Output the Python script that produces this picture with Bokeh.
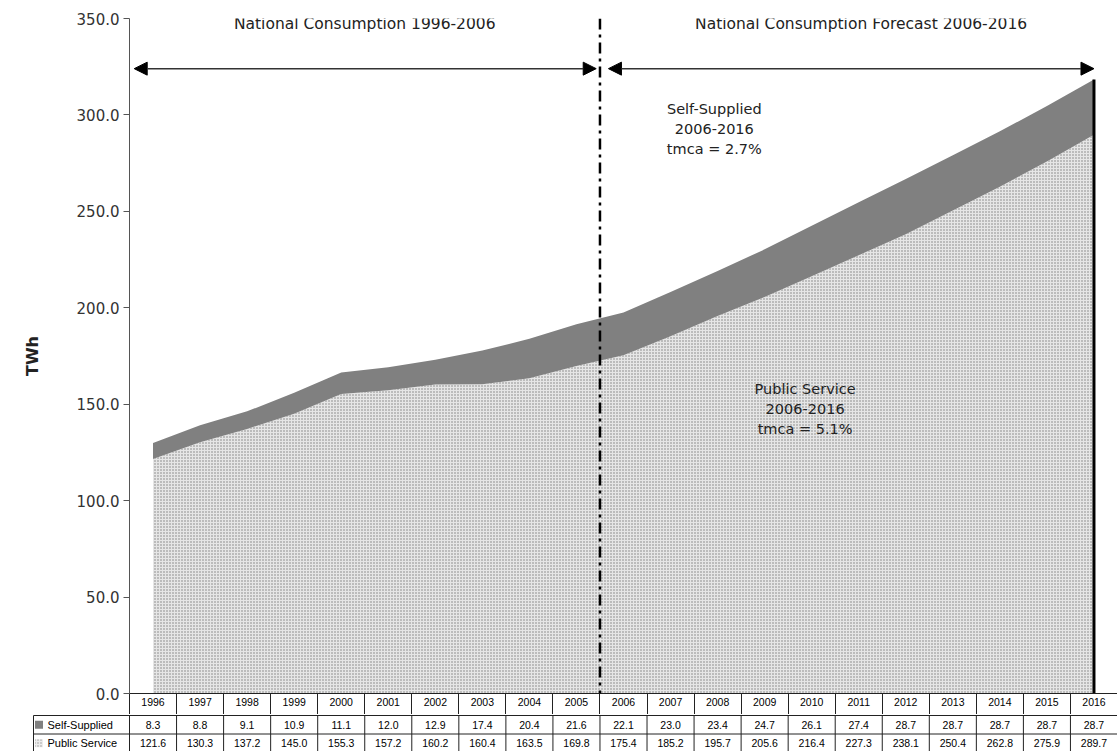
from bokeh.plotting import figure
from bokeh.models import (Range1d, NumeralTickFormatter, FixedTicker, Arrow, NormalHead,
                          Span, Label, ColumnDataSource)
from bokeh.layouts import column
from bokeh.embed import file_html
from bokeh.resources import INLINE
from bokeh.core.properties import value

# ---------------- data ----------------
years = [1996, 1997, 1998, 1999, 2000, 2001, 2002, 2003, 2004, 2005, 2006,
         2007, 2008, 2009, 2010, 2011, 2012, 2013, 2014, 2015, 2016]
self_supplied = [8.3, 8.8, 9.1, 10.9, 11.1, 12.0, 12.9, 17.4, 20.4, 21.6, 22.1,
                 23.0, 23.4, 24.7, 26.1, 27.4, 28.7, 28.7, 28.7, 28.7, 28.7]
public_service = [121.6, 130.3, 137.2, 145.0, 155.3, 157.2, 160.2, 160.4, 163.5, 169.8, 175.4,
                  185.2, 195.7, 205.6, 216.4, 227.3, 238.1, 250.4, 262.8, 275.9, 289.7]
series_names = ["Self-Supplied", "Public Service"]
y_ticks = [0, 50, 100, 150, 200, 250, 300, 350]
period_titles = ["National Consumption 1996-2006", "National Consumption Forecast 2006-2016"]
notes = ["Self-Supplied\n2006-2016\ntmca = 2.7%", "Public Service\n2006-2016\ntmca = 5.1%"]
y_label = "TWh"

total = [a + b for a, b in zip(public_service, self_supplied)]
boundaries = [y - 0.5 for y in years] + [years[-1] + 0.5]

FONT = "DejaVu Sans"
TFONT = "Liberation Sans"
SS_COLOR = "#808080"
PS_FILL = "#e6e6e6"
PS_HATCH = "#7c7c7c"

# ---------------- geometry ----------------
W = 1117
LEFT = 129
ROW = 21        # header row height (x axis area)
ROW2 = 18.5     # series rows height
x_lo_main = years[0] - 0.5
x_hi = years[-1] + 0.5
ppy = (W - LEFT) / (x_hi - x_lo_main)

p = figure(width=W, height=18 + 675 + ROW, output_backend="svg", toolbar_location=None,
           x_range=Range1d(x_lo_main, x_hi), y_range=Range1d(0, 350),
           min_border_left=LEFT, min_border_right=0, min_border_top=18, min_border_bottom=ROW)
p.outline_line_color = None
p.xgrid.visible = False
p.ygrid.visible = False
p.background_fill_color = "white"

src = ColumnDataSource(dict(x=years, ps=public_service, tot=total, zero=[0] * len(years)))
p.varea(x="x", y1="zero", y2="ps", source=src, fill_color=PS_FILL,
        hatch_pattern="dot", hatch_color=PS_HATCH, hatch_scale=3, hatch_weight=1)
p.varea(x="x", y1="ps", y2="tot", source=src, fill_color=SS_COLOR)

# thick end line at last year
p.segment(x0=[years[-1]], y0=[0], x1=[years[-1]], y1=[total[-1]], line_color="black", line_width=3)

# separator between history and forecast
p.add_layout(Span(location=2005.5, dimension="height", line_color="black",
                  line_width=2.5, line_dash="11 5 3 5"))

# arrows
for xs, xe in [(1995.6, 2005.42), (2005.68, 2016.0)]:
    p.add_layout(Arrow(x_start=xs, y_start=324, x_end=xe, y_end=324,
                       line_color="#333333", line_width=1.5,
                       start=NormalHead(size=13, fill_color="black", line_color="black"),
                       end=NormalHead(size=13, fill_color="black", line_color="black")))

for t_, xc in zip(period_titles, [2000.5, 2011.05]):
    p.add_layout(Label(x=xc, y=347.3, text=t_, text_align="center", text_baseline="middle",
                       text_font=FONT, text_font_size="15.5px", text_color="#222222"))

for t_, xc, yc in zip(notes, [2007.93, 2009.86], [292.9, 147.7]):
    p.add_layout(Label(x=xc, y=yc, text=t_, text_align="center", text_baseline="middle",
                       text_font=FONT, text_font_size="14.5px", text_color="#222222",
                       text_line_height=1.25))

ay = p.yaxis[0]
ay.ticker = FixedTicker(ticks=y_ticks)
ay.formatter = NumeralTickFormatter(format="0.0")
ay.axis_line_color = "#555555"
ay.major_tick_line_color = "#555555"
ay.major_tick_out = 6
ay.major_tick_in = 0
ay.minor_tick_line_color = None
ay.major_label_text_font = FONT
ay.major_label_text_font_size = "15px"
ay.major_label_text_color = "#333333"
ay.major_label_standoff = 4
ay.axis_label = y_label
ay.axis_label_text_font = FONT
ay.axis_label_text_font_size = "16px"
ay.axis_label_text_font_style = "bold"
ay.axis_label_text_color = "#222222"
ay.axis_label_standoff = 32

# x axis = header row of the data table
ax = p.xaxis[0]
ax.ticker = FixedTicker(ticks=years, minor_ticks=boundaries)
ax.axis_line_color = "#222222"
ax.major_tick_out = 0
ax.major_tick_in = 0
ax.minor_tick_out = ROW
ax.minor_tick_in = 0
ax.minor_tick_line_color = "#222222"
ax.major_label_text_font = TFONT
ax.major_label_text_font_size = "10.5px"
ax.major_label_text_color = "black"
ax.major_label_standoff = -(ROW - 4)

# ---------------- data table (series rows) ----------------
TLEFT = 32
TH = 751 - (18 + 675 + ROW)
x_lo_tab = x_hi - (W - TLEFT) / ppy
x_box = x_lo_main - (LEFT - 33) / ppy
y_top = 2 + 1.0 / ROW2
t = figure(width=W, height=TH, output_backend="svg", toolbar_location=None,
           x_range=Range1d(x_lo_tab, x_hi), y_range=Range1d(y_top - TH / ROW2, y_top),
           min_border_left=TLEFT, min_border_right=0, min_border_top=0, min_border_bottom=0)
t.outline_line_color = None
t.axis.visible = False
t.grid.visible = False
for fig in (p, t):
    try:
        fig.frame_align = False
    except Exception:
        pass

hy = [2.0, 1.0, 0.0]
t.segment(x0=[x_box] * 3, y0=hy, x1=[x_hi] * 3, y1=hy, line_color="#222222", line_width=1)
vx = boundaries + [x_box]
t.segment(x0=vx, y0=[-1] * len(vx), x1=vx, y1=[2] * len(vx), line_color="#222222", line_width=1)

t.text(x=years, y=[1.5] * len(years), text=["%.1f" % v for v in self_supplied], text_align="center",
       text_baseline="middle", text_font=value(TFONT), text_font_size="10.5px", text_color="black")
t.text(x=years, y=[0.5] * len(years), text=["%.1f" % v for v in public_service], text_align="center",
       text_baseline="middle", text_font=value(TFONT), text_font_size="10.5px", text_color="black")

sw_x = x_box + 5.5 / ppy
t.scatter(x=[sw_x], y=[1.5], marker="square", size=8, fill_color=SS_COLOR, line_color=None)
t.scatter(x=[sw_x], y=[0.5], marker="square", size=8, fill_color="#ececec", line_color=None,
          hatch_pattern="dot", hatch_color="#999999", hatch_scale=3, hatch_weight=1)
t.text(x=[x_box + 14 / ppy] * 2, y=[1.5, 0.5], text=series_names, text_align="left",
       text_baseline="middle", text_font=value(TFONT), text_font_size="11px", text_color="black")

layout = column(p, t, spacing=0)
open("out.html", "w").write(file_html(layout, INLINE))
